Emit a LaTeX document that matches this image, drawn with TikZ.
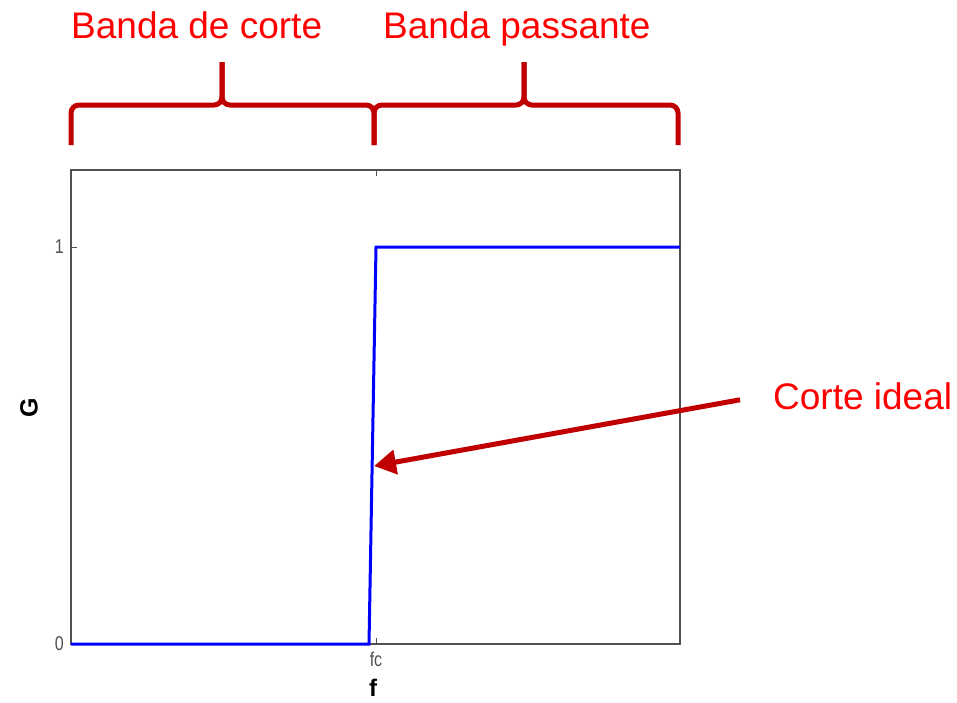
\documentclass[tikz,border=0pt]{standalone}
\usepackage{fontspec}
\setmainfont{Liberation Sans}
\usetikzlibrary{arrows.meta}
\definecolor{darkred}{RGB}{192,0,0}
\definecolor{axisgray}{RGB}{80,80,80}
\tikzset{
  bandlabel/.style={text=red, inner sep=0pt, font=\fontsize{37}{44}\selectfont},
  brace/.style={darkred, line width=5pt, rounded corners=8pt},
  ticklabel/.style={text=axisgray, inner sep=0pt, font=\fontsize{20}{24}\selectfont}
}
\begin{document}
\begin{tikzpicture}[x=1pt,y=-1pt]
\useasboundingbox (0,0) rectangle (957,702);
\def\xl{71}
\def\xr{680}
\def\yt{170}
\def\yb{644}
\def\fc{376}
\def\one{247}
\coordinate (BL) at (\xl,\yb);
\coordinate (TR) at (\xr,\yt);
% axes box and ticks
\draw [axisgray, line width=1.5pt] (BL) rectangle (TR);
\draw [axisgray, line width=1pt] (\xl,\one) -- (\xl+6,\one);
\draw [axisgray, line width=1pt] (\fc,\yb) -- (\fc,\yb-6);
\draw [axisgray, line width=1pt] (\fc,\yt) -- (\fc,\yt+6);
\node [ticklabel, anchor=east, xscale=0.8] (one) at (\xl-7,\one) {1};
\node [ticklabel, anchor=east, xscale=0.8] (zero) at (\xl-7,\yb) {0};
\node [ticklabel, anchor=north, xscale=0.8] (fclab) at (\fc,652) {fc};
\node [inner sep=0pt, anchor=north, font=\bfseries\fontsize{24}{28}\selectfont] (flab) at (373,679) {f};
\node [inner sep=0pt, rotate=90, font=\bfseries\fontsize{25}{30}\selectfont] (Glab) at (29,408) {G};
% ideal cut
\draw [blue, line width=3pt] (BL) -- (369,\yb) -- (\fc,\one) -- (\xr,\one);
% braces
\foreach \a/\m/\b in {71/222/374, 374/524/678} {
  \draw [brace] (\a,145) -- (\a,105) -- (\m,105) -- (\m,62);
  \draw [brace] (\m,62) -- (\m,105) -- (\b,105) -- (\b,145);
}
\node [bandlabel, anchor=base west] (cut) at (71,38) {Banda de corte};
\node [bandlabel, anchor=base west] (pass) at (383,38) {Banda passante};
\node [bandlabel, anchor=base west] (ideal) at (773,409) {Corte ideal};
\coordinate (C) at (374,466);
\draw [darkred, line width=5pt, -{Triangle[length=22pt,width=24pt]}]
  ([xshift=-33pt,yshift=-4pt]ideal.west) -- (C);
\end{tikzpicture}
\end{document}
